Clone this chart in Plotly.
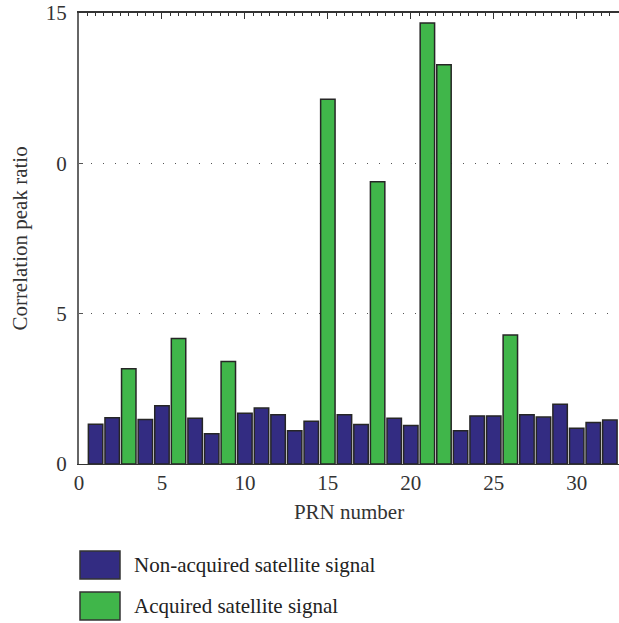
import plotly.graph_objects as go

# PRN numbers and correlation peak ratios
prn = list(range(1, 33))
peak_ratio = [1.32, 1.54, 3.17, 1.48, 1.94, 4.17, 1.52, 1.01, 3.41, 1.69,
              1.86, 1.64, 1.11, 1.42, 12.13, 1.64, 1.31, 9.39, 1.52, 1.28,
              14.67, 13.28, 1.11, 1.60, 1.60, 4.29, 1.64, 1.56, 1.99, 1.19,
              1.38, 1.46]
acquired_prn = [3, 6, 9, 15, 18, 21, 22, 26]

y_tickvals = [0, 5, 10, 15]
y_ticktext = ["0", "5", "0", "15"]
x_tickvals = [0, 5, 10, 15, 20, 25, 30]

legend_labels = ["Non-acquired satellite signal", "Acquired satellite signal"]

NAVY = "#332c82"
GREEN = "#40b64a"
EDGE = "#262626"
FONT = "Liberation Serif"
FS = 21

non_x = [p for p in prn if p not in acquired_prn]
non_y = [peak_ratio[p - 1] for p in non_x]
acq_x = [p for p in prn if p in acquired_prn]
acq_y = [peak_ratio[p - 1] for p in acq_x]

fig = go.Figure()
fig.add_trace(go.Bar(x=non_x, y=non_y, name=legend_labels[0], width=0.87,
                     marker=dict(color=NAVY, line=dict(color=EDGE, width=1.5))))
fig.add_trace(go.Bar(x=acq_x, y=acq_y, name=legend_labels[1], width=0.87,
                     marker=dict(color=GREEN, line=dict(color=EDGE, width=1.5))))
# invisible trace carrying the top axis with its tick marks
fig.add_trace(go.Scatter(x=[0], y=[0], xaxis="x2", mode="markers",
                         marker=dict(opacity=0), showlegend=False, hoverinfo="skip"))

fig.update_layout(
    width=619, height=623,
    margin=dict(l=79, r=0, t=13, b=159),
    plot_bgcolor="white", paper_bgcolor="white",
    showlegend=False,
    font=dict(family=FONT, size=FS, color="#222"),
    barmode="overlay",
    xaxis=dict(range=[0, 32.55], tickvals=x_tickvals, ticks="",
               showgrid=False, zeroline=False,
               showline=True, linecolor="#333", linewidth=1,
               tickfont=dict(family=FONT, size=FS, color="#333"),
               title=dict(text="PRN number", font=dict(family=FONT, size=FS, color="#333"),
                          standoff=10)),
    xaxis2=dict(range=[0, 32.55], overlaying="x", side="top", anchor="y",
                tickvals=x_tickvals, ticks="inside", ticklen=6, tickwidth=1,
                tickcolor="#333", showticklabels=False, showgrid=False,
                zeroline=False, showline=True, linecolor="#333", linewidth=1.5,
                minor=dict(dtick=0.5, tick0=0, ticks="inside", ticklen=3,
                           tickwidth=1, tickcolor="#333", showgrid=False)),
    yaxis=dict(range=[0, 15], tickvals=y_tickvals, ticktext=y_ticktext,
               ticks="inside", ticklen=4, tickcolor="#555",
               showline=True, linecolor="#666", linewidth=2,
               showgrid=True, gridcolor="#555", gridwidth=1.2, griddash="1px,11px",
               zeroline=False, ticklabelstandoff=6,
               tickfont=dict(family=FONT, size=FS, color="#333"),
               title=dict(text="Correlation peak ratio",
                          font=dict(family=FONT, size=FS, color="#333"),
                          standoff=12)),
)

# legend drawn below the plot as large swatches with labels
swatches = [(NAVY, legend_labels[0], 551), (GREEN, legend_labels[1], 592)]
for color, label, top in swatches:
    y0 = 1 - (top + 28 - 13) / 451
    y1 = 1 - (top - 13) / 451
    fig.add_shape(type="rect", xref="paper", yref="paper",
                  x0=(80 - 79) / 540, x1=(120 - 79) / 540, y0=y0, y1=y1,
                  fillcolor=color, line=dict(color="#333", width=1.5))
    fig.add_annotation(xref="paper", yref="paper", x=(132 - 79) / 540,
                       y=(y0 + y1) / 2, text=label, showarrow=False,
                       xanchor="left", yanchor="middle",
                       font=dict(family=FONT, size=FS, color="#222"))

fig.write_html("out.html")
